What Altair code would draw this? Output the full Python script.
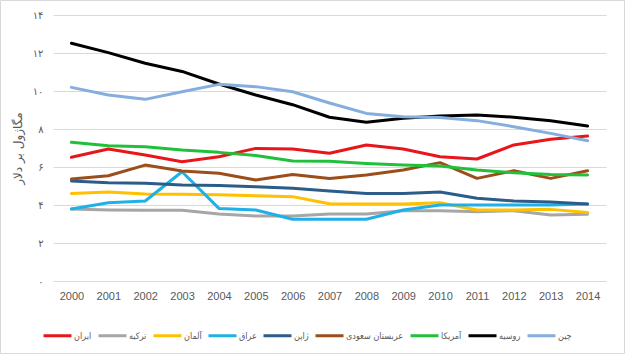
import altair as alt
import pandas as pd
import json

years = [str(y) for y in range(2000, 2015)]

series_names = ["ایران", "ترکیه", "آلمان", "عراق", "ژاپن", "عربستان سعودی", "آمریکا", "روسیه", "چین"]
series_colors = ["#e8161b", "#a6a6a6", "#ffc000", "#1fb0e6", "#2c5d8a", "#9b4e1a", "#22c03a", "#000000", "#85aede"]

iran   = [6.51, 6.95, 6.63, 6.28, 6.54, 6.98, 6.95, 6.72, 7.16, 6.95, 6.54, 6.42, 7.16, 7.46, 7.63]
turkey = [3.79, 3.74, 3.72, 3.72, 3.53, 3.42, 3.42, 3.53, 3.53, 3.70, 3.70, 3.65, 3.70, 3.47, 3.51]
germany = [4.61, 4.68, 4.58, 4.56, 4.54, 4.49, 4.44, 4.07, 4.05, 4.05, 4.12, 3.74, 3.74, 3.77, 3.60]
iraq   = [3.79, 4.12, 4.21, 5.75, 3.82, 3.74, 3.25, 3.25, 3.25, 3.74, 4.00, 4.00, 4.00, 4.00, 4.05]
japan  = [5.26, 5.17, 5.14, 5.05, 5.02, 4.96, 4.88, 4.74, 4.61, 4.61, 4.68, 4.35, 4.21, 4.16, 4.05]
saudi  = [5.37, 5.54, 6.10, 5.79, 5.67, 5.32, 5.61, 5.40, 5.58, 5.84, 6.23, 5.40, 5.80, 5.40, 5.80]
usa    = [7.30, 7.12, 7.07, 6.89, 6.77, 6.60, 6.32, 6.30, 6.19, 6.10, 6.05, 5.84, 5.70, 5.61, 5.58]
russia = [12.51, 12.02, 11.46, 11.03, 10.37, 9.79, 9.28, 8.62, 8.35, 8.56, 8.68, 8.74, 8.62, 8.43, 8.16]
china  = [10.19, 9.79, 9.56, 9.96, 10.35, 10.23, 9.96, 9.37, 8.82, 8.65, 8.60, 8.44, 8.12, 7.77, 7.38]

y_ticks = [0, 2, 4, 6, 8, 10, 12, 14]
y_tick_labels = ["۰", "۲", "۴", "۶", "۸", "۱۰", "۱۲", "۱۴"]
y_title = "مگاژول بر دلار"

all_series = [iran, turkey, germany, iraq, japan, saudi, usa, russia, china]
rows = []
for name, vals in zip(series_names, all_series):
    for yr, v in zip(years, vals):
        rows.append({"year": yr, "country": name, "value": v})
df = pd.DataFrame(rows)

label_expr = json.dumps(y_tick_labels, ensure_ascii=False) + "[datum.value/2]"

W, H = 553, 266
PL, PT, PR, PB = 53, 15, 19, 73

lines = alt.Chart(df).mark_line(strokeWidth=3, strokeCap="round", strokeJoin="round").encode(
    x=alt.X("year:O", sort=years,
            scale=alt.Scale(type="point", padding=0.5),
            axis=alt.Axis(title=None, labelAngle=0, ticks=False, domain=False, grid=False,
                          labelColor="#595959", labelFontSize=11, labelFont="Liberation Sans",
                          labelPadding=9)),
    y=alt.Y("value:Q",
            scale=alt.Scale(domain=[0, 14], nice=False, zero=True),
            axis=alt.Axis(title=y_title, values=y_ticks, labelExpr=label_expr,
                          ticks=False, domain=False, grid=True, gridColor="#d9d9d9",
                          labelColor="#595959", labelFontSize=10, labelFont="DejaVu Sans",
                          labelPadding=10, titleColor="#595959", titleFontSize=12,
                          titleFont="DejaVu Sans", titleFontWeight="normal", titlePadding=8)),
    color=alt.Color("country:N",
                    scale=alt.Scale(domain=series_names, range=series_colors),
                    sort=series_names,
                    legend=alt.Legend(title=None, orient="none", direction="horizontal",
                                      columns=9, legendX=-11, legendY=305,
                                      symbolType="stroke", symbolSize=784, symbolStrokeWidth=3,
                                      labelFont="DejaVu Sans Condensed", labelFontSize=9,
                                      labelColor="#595959", columnPadding=0, labelOffset=1)),
    order=alt.Order("year:O"),
)

frame = alt.Chart(pd.DataFrame({"a": [0]})).mark_rect(
    fill=None, stroke="#d9d9d9", strokeWidth=1
).encode(
    x=alt.value(-PL + 0.5), x2=alt.value(W + PR - 0.5),
    y=alt.value(-PT + 0.5), y2=alt.value(H + PB - 0.5),
)

chart = alt.layer(frame, lines).properties(
    width=W, height=H,
    autosize=alt.AutoSizeParams(type="none"),
    padding={"left": PL, "top": PT, "right": PR, "bottom": PB},
    background="white",
).configure_view(stroke=None)

chart.save("out.html", embed_options={"renderer": "svg", "actions": False})
